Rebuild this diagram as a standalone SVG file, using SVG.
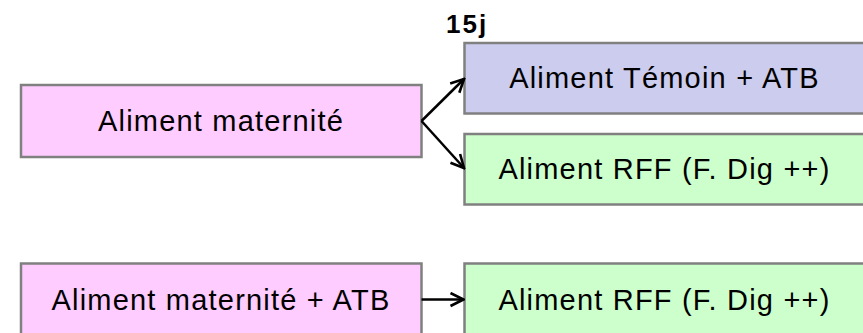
<svg xmlns="http://www.w3.org/2000/svg" width="863" height="333" viewBox="0 0 863 333">
<style>
.box{stroke:#808080;stroke-width:2.5}
.pink{fill:#FFCCFF}
.lav{fill:#CCCCEE}
.green{fill:#CCFFCC}
.lbl{font-family:"Liberation Sans",Arial,sans-serif;font-size:29px;letter-spacing:1.2px;fill:#000;text-anchor:middle}
.conn{stroke:#000;stroke-width:2.5;fill:none}
</style>
<defs>
<marker id="arr" viewBox="0 0 16 16" refX="14.5" refY="8" markerWidth="16" markerHeight="16" markerUnits="userSpaceOnUse" orient="auto">
<path d="M1.5,1.5 L14.5,8 L1.5,14.5" fill="none" stroke="#000" stroke-width="2.6"/>
</marker>
</defs>
<text x="446" y="33" font-family="Liberation Sans, Arial, sans-serif" font-size="26" font-weight="bold" letter-spacing="2">15j</text>
<g id="n1"><rect class="box pink" x="21" y="85" width="400.5" height="72"/><text class="lbl" x="221" y="131">Aliment maternité</text></g>
<g id="n2"><rect class="box lav" x="464.5" y="43" width="400" height="70.5"/><text class="lbl" x="664.5" y="88">Aliment Témoin + ATB</text></g>
<g id="n3"><rect class="box green" x="464.5" y="134" width="400" height="70.5"/><text class="lbl" x="664.5" y="179">Aliment RFF (F. Dig ++)</text></g>
<g id="n4"><rect class="box pink" x="21" y="263.5" width="400.5" height="72"/><text class="lbl" x="221" y="309.5">Aliment maternité + ATB</text></g>
<g id="n5"><rect class="box green" x="464.5" y="263.5" width="400" height="72"/><text class="lbl" x="664.5" y="309.5">Aliment RFF (F. Dig ++)</text></g>
<g id="connectors">
<line class="conn" x1="421.5" y1="121" x2="464" y2="79" marker-end="url(#arr)"/>
<line class="conn" x1="421.5" y1="121" x2="464" y2="168" marker-end="url(#arr)"/>
<line class="conn" x1="421.5" y1="299.5" x2="463.5" y2="299.5" marker-end="url(#arr)"/>
</g>
</svg>
